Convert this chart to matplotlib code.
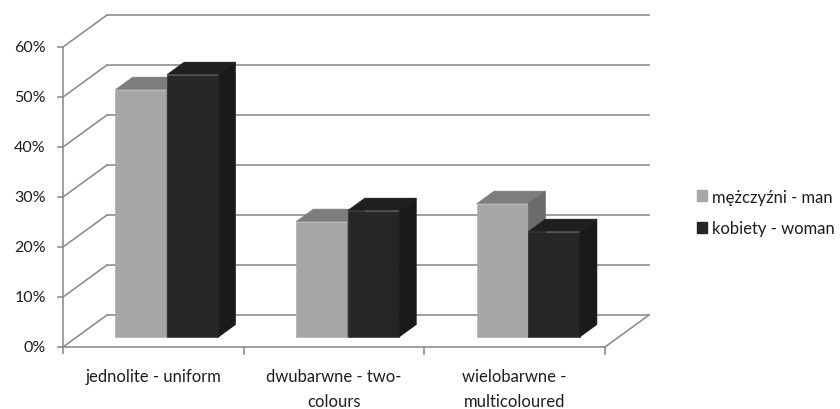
#! /usr/bin/env python3

import numpy as np
import matplotlib
matplotlib.use("Agg")
import matplotlib.pyplot as plt
from matplotlib.patches import Polygon, Patch

plt.rcParams['font.family'] = ['Lato', 'DejaVu Sans']

kategorie = ["jednolite - uniform", "dwubarwne - two-\ncolours", "wielobarwne -\nmulticoloured"]
serie = ["mężczyźni - man", "kobiety - woman"]
mezczyzni = [49.5, 23.1, 26.7]
kobiety = [52.5, 25.3, 21.1]
yticks = [0, 10, 20, 30, 40, 50, 60]
wartosci = [mezczyzni, kobiety]

# front / top / side shades for each series
kolory = [("#a6a6a6", "#7d7d7d", "#6b6b6b"),
          ("#262626", "#1f1f1f", "#1a1a1a")]
siatka = "#8e8e8e"
tekst = "#1e1e1e"

# oblique depth offset (in category units and percent)
DX = 0.2435
DY = 6.4


def proj(x, y, d):
    return (x + d * DX, y + d * DY)


fig = plt.figure(figsize=(8.4, 4.1), dpi=100)
ax = fig.add_axes([0, 0, 1, 1])
ax.set_xlim(-63 / 180.67, (840 - 63) / 180.67)
ax.set_ylim(-(410 - 348) / 5.0, 348 / 5.0)
ax.axis("off")

n = len(kategorie)
ymax = yticks[-1]

# back wall and left wall gridlines
for v in yticks:
    p0, p1 = proj(0, v, 1), proj(n, v, 1)
    ax.plot([p0[0], p1[0]], [p0[1], p1[1]], color=siatka, lw=1.2, zorder=1)
    q0, q1 = proj(0, v, 0), proj(0, v, 1)
    ax.plot([q0[0], q1[0]], [q0[1], q1[1]], color=siatka, lw=1.2, zorder=1)
    # tick + label on the front axis
    ax.plot([-0.028, 0], [v, v], color=siatka, lw=1.2, zorder=1)
    ax.text(-0.095, v, "%d%%" % v, ha="right", va="center", fontsize=11.5, color=tekst)

# floor edges and front axis
r0, r1 = proj(n, 0, 0), proj(n, 0, 1)
ax.plot([r0[0], r1[0]], [r0[1], r1[1]], color=siatka, lw=1.2, zorder=1)
ax.plot([0, n], [0, 0], color=siatka, lw=1.2, zorder=1)
ax.plot([0, 0], [-1.2, ymax], color=siatka, lw=1.2, zorder=1)
for i in range(1, n + 1):
    ax.plot([i, i], [0, -1.4], color=siatka, lw=1.2, zorder=1)

# bars
bw = 0.285
gap = 1 - 2 * bw
d0, d1 = 0.31, 0.70
for i in range(n):
    for j in range(len(serie)):
        v = wartosci[j][i]
        x0 = i + gap / 2 + j * bw
        x1 = x0 + bw
        front, top, side = kolory[j]
        faces = [
            ([proj(x0, 0, d0), proj(x1, 0, d0), proj(x1, v, d0), proj(x0, v, d0)], front),
            ([proj(x0, v, d0), proj(x1, v, d0), proj(x1, v, d1), proj(x0, v, d1)], top),
            ([proj(x1, 0, d0), proj(x1, 0, d1), proj(x1, v, d1), proj(x1, v, d0)], side),
        ]
        for pts, c in faces:
            ax.add_patch(Polygon(pts, closed=True, facecolor=c, edgecolor=c,
                                 lw=0.4, zorder=3))

# category labels
for i, k in enumerate(kategorie):
    ax.text(i + 0.5, -4.3, k, ha="center", va="top", fontsize=12,
            color=tekst, linespacing=1.65)

uchwyty = [Patch(facecolor=kolory[j][0], edgecolor=kolory[j][0]) for j in range(len(serie))]
leg = fig.legend(uchwyty, serie, loc="center left", bbox_to_anchor=(697 / 840, 196.5 / 410),
                 frameon=False, fontsize=12, handlelength=0.6, handleheight=0.6,
                 handletextpad=0.3, labelspacing=0.95, borderpad=0, borderaxespad=0)
for t in leg.get_texts():
    t.set_color(tekst)

fig.savefig("out.png", dpi=100)
